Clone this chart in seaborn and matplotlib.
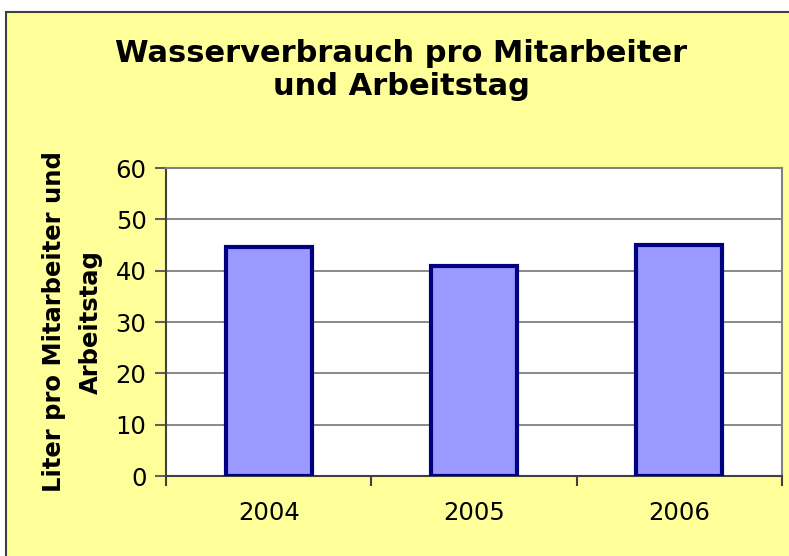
import matplotlib
matplotlib.use('Agg')
import matplotlib.pyplot as plt
import matplotlib.patches as mpatches
import seaborn as sns
import pandas as pd

# Daten
jahre = ['2004', '2005', '2006']
liter = [44.6, 40.9, 45.0]

data = pd.DataFrame({'jahr': jahre, 'liter': liter})

sns.set_style('white')
plt.rcParams['font.family'] = ['DejaVu Sans']
plt.rcParams['text.color'] = 'black'
plt.rcParams['axes.labelcolor'] = 'black'
plt.rcParams['xtick.color'] = 'black'
plt.rcParams['ytick.color'] = 'black'

fig = plt.figure(figsize=(7.89, 5.56), dpi=100)
fig.patch.set_facecolor('white')

# gelber Hintergrund mit Rahmen
bg = mpatches.Rectangle((6 / 789, -0.1), 1.1, 1.1 - 12 / 556, transform=fig.transFigure,
                        facecolor='#FFFF99', edgecolor='#404040', linewidth=1.5, zorder=-10)
fig.patches.append(bg)

ax = fig.add_axes([166 / 789, 80 / 556, 616 / 789, 308 / 556])
ax.set_facecolor('white')

sns.barplot(data=data, x='jahr', y='liter', color='#9999FF', edgecolor='#000080',
            linewidth=3, width=0.42, saturation=1, ax=ax, zorder=3)

ax.set_ylim(0, 60)
ax.set_xlim(-0.5, 2.5)
ax.set_yticks(range(0, 61, 10))
ax.yaxis.grid(True, color='#808080', linewidth=1.3, zorder=0)
ax.set_axisbelow(True)

ax.set_xticks([-0.5, 0.5, 1.5, 2.5], minor=True)
ax.tick_params(axis='x', which='major', length=0, labelsize=17.5, pad=18)
ax.tick_params(axis='x', which='minor', bottom=True, length=7, width=1.5,
               color='#404040', direction='out')
ax.tick_params(axis='y', left=True, length=8, width=1.5, color='#606060',
               labelsize=17.5, pad=6, direction='out')

for s in ['left', 'bottom']:
    ax.spines[s].set_color('#404040')
    ax.spines[s].set_linewidth(1.5)
for s in ['top', 'right']:
    ax.spines[s].set_color('#808080')
    ax.spines[s].set_linewidth(1.5)

ax.set_xlabel('')
ax.set_ylabel('Liter pro Mitarbeiter und\nArbeitstag', fontsize=17.5, fontweight='bold',
              labelpad=9, linespacing=1.7)

fig.text(401 / 789, 1 - 70 / 556, 'Wasserverbrauch pro Mitarbeiter\nund Arbeitstag',
         ha='center', va='center', fontsize=22, fontweight='bold', linespacing=1.2)

fig.savefig('out.png', dpi=100, facecolor=fig.get_facecolor())
